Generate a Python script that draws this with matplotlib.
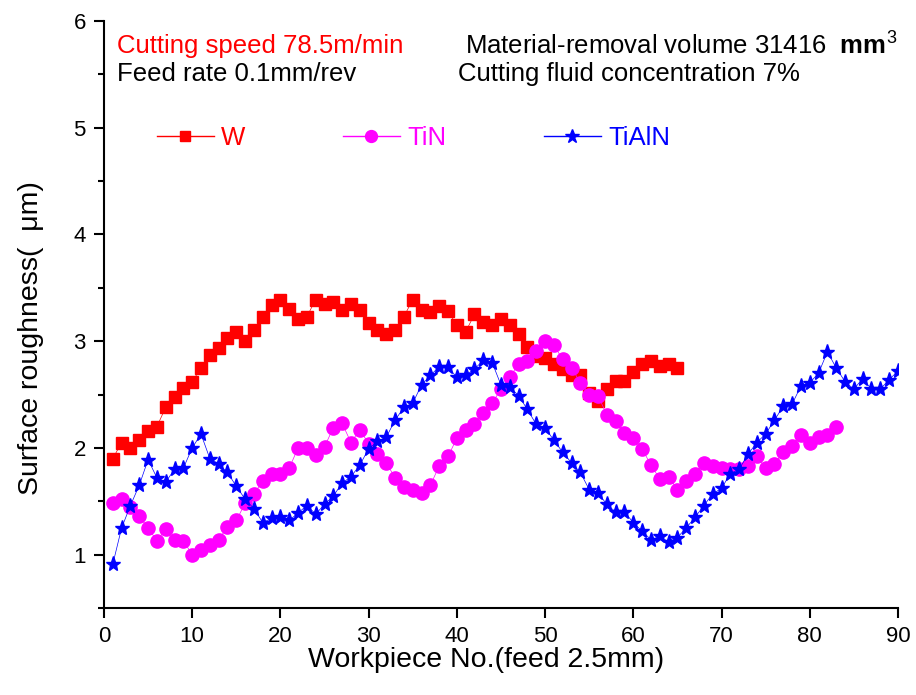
import numpy as np
import matplotlib
matplotlib.use("Agg")
from matplotlib import pyplot as plt
from matplotlib.ticker import MultipleLocator

plt.rcParams['font.family'] = ['Liberation Sans', 'DejaVu Sans']
plt.rcParams['mathtext.fontset'] = 'custom'
plt.rcParams['mathtext.rm'] = 'Liberation Sans'
plt.rcParams['mathtext.bf'] = 'Liberation Sans:bold'

# surface roughness (um) per workpiece
w_vals = [1.90, 2.05, 2.00, 2.07, 2.16, 2.20, 2.38, 2.48, 2.56, 2.62,
          2.75, 2.87, 2.94, 3.03, 3.09, 3.00, 3.10, 3.23, 3.34, 3.39,
          3.30, 3.21, 3.23, 3.39, 3.35, 3.37, 3.29, 3.35, 3.29, 3.17,
          3.10, 3.07, 3.10, 3.23, 3.39, 3.29, 3.27, 3.33, 3.28, 3.15,
          3.09, 3.25, 3.18, 3.15, 3.21, 3.15, 3.07, 2.95, 2.86, 2.84,
          2.79, 2.74, 2.68, 2.68, 2.51, 2.44, 2.55, 2.63, 2.63, 2.71,
          2.79, 2.81, 2.77, 2.79, 2.75]
tin_vals = [1.48, 1.52, 1.45, 1.36, 1.25, 1.13, 1.24, 1.14, 1.13, 1.00,
            1.04, 1.09, 1.14, 1.26, 1.32, 1.48, 1.57, 1.69, 1.76, 1.76,
            1.81, 2.00, 2.00, 1.93, 2.01, 2.19, 2.23, 2.05, 2.17, 2.04,
            1.94, 1.86, 1.72, 1.63, 1.61, 1.58, 1.65, 1.83, 1.92, 2.09,
            2.17, 2.22, 2.33, 2.42, 2.55, 2.66, 2.79, 2.81, 2.91, 3.00,
            2.96, 2.83, 2.75, 2.61, 2.50, 2.49, 2.31, 2.25, 2.14, 2.09,
            1.99, 1.84, 1.71, 1.73, 1.61, 1.69, 1.76, 1.86, 1.83, 1.81,
            1.80, 1.80, 1.83, 1.92, 1.81, 1.85, 1.96, 2.02, 2.12, 2.05,
            2.10, 2.12, 2.20]
tialn_vals = [0.91, 1.25, 1.46, 1.65, 1.89, 1.72, 1.68, 1.80, 1.81, 2.00,
              2.13, 1.90, 1.85, 1.77, 1.64, 1.52, 1.43, 1.30, 1.34, 1.35,
              1.32, 1.39, 1.46, 1.38, 1.47, 1.55, 1.67, 1.73, 1.84, 1.99,
              2.06, 2.10, 2.26, 2.38, 2.42, 2.59, 2.68, 2.76, 2.76, 2.66,
              2.68, 2.74, 2.82, 2.80, 2.59, 2.57, 2.49, 2.36, 2.22, 2.19,
              2.07, 1.96, 1.86, 1.77, 1.61, 1.58, 1.47, 1.40, 1.40, 1.30,
              1.22, 1.14, 1.17, 1.12, 1.16, 1.25, 1.35, 1.46, 1.57, 1.62,
              1.76, 1.80, 1.94, 2.05, 2.13, 2.26, 2.39, 2.41, 2.58, 2.61,
              2.70, 2.90, 2.75, 2.62, 2.55, 2.65, 2.55, 2.55, 2.64, 2.72]

x_w = np.arange(1, len(w_vals) + 1)
x_tin = np.arange(1, len(tin_vals) + 1)
x_tialn = np.arange(1, len(tialn_vals) + 1)

fig = plt.figure(figsize=(9.16, 6.95), dpi=100)
ax = fig.add_axes([0.1135, 0.1252, 0.8668, 0.8446])

ax.plot(x_w, w_vals, color="#ff0000", marker="s", markersize=8.5, lw=0.5, label="W")
ax.plot(x_tin, tin_vals, color="#ff00ff", marker="o", markersize=9.5, lw=0.5, label="TiN")
ax.plot(x_tialn, tialn_vals, color="#0000ff", marker="*", markersize=11, lw=0.5, label="TiAlN")

ax.set_xlim(0, 90)
ax.set_ylim(0.5, 6)
ax.xaxis.set_major_locator(MultipleLocator(10))
ax.yaxis.set_major_locator(MultipleLocator(1))
ax.yaxis.set_minor_locator(MultipleLocator(0.5))
for s in ["top", "right"]:
    ax.spines[s].set_visible(False)
for s in ["left", "bottom"]:
    ax.spines[s].set_linewidth(1.5)
ax.tick_params(which="major", direction="out", length=7, width=1.5, labelsize=16, pad=6)
ax.tick_params(which="minor", direction="out", length=4, width=1.5)

ax.set_xlabel("Workpiece No.(feed 2.5mm)", fontsize=20.5)
ax.set_ylabel("Surface roughness(  \u03bcm)", fontsize=20.5)
ax.xaxis.set_label_coords(0.481, -0.066)
ax.yaxis.set_label_coords(-0.075, 0.46)

ax.text(1.53, 5.696, "Cutting speed 78.5m/min", color="#ff0000", fontsize=18.5, va="baseline")
ax.text(1.53, 5.435, "Feed rate 0.1mm/rev", color="black", fontsize=18.5, va="baseline")
ax.text(40.9, 5.696, r"Material-removal volume 31416  $\mathbf{mm}^{3}$", color="black",
        fontsize=18.5, va="baseline")
ax.text(40.1, 5.435, "Cutting fluid concentration 7%", color="black", fontsize=18.5, va="baseline")

leg = ax.legend(loc="center left", bbox_to_anchor=(157 / 916, 1 - 138 / 695),
                bbox_transform=fig.transFigure, ncol=3, frameon=False, fontsize=18.5,
                handlelength=2.2, handletextpad=0.3, columnspacing=3.8, borderpad=0,
                borderaxespad=0, markerscale=0.9)
for line in leg.get_lines():
    line.set_linewidth(1.0)
for t, c in zip(leg.get_texts(), ["#ff0000", "#ff00ff", "#0000ff"]):
    t.set_color(c)

fig.savefig("out.png", dpi=100)
